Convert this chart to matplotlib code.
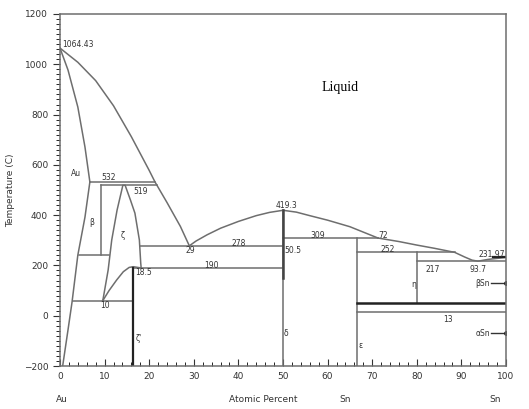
import matplotlib
matplotlib.use("Agg")
import matplotlib.pyplot as plt
from matplotlib.ticker import MultipleLocator

# liquidus, Au side
liq_au_x = [0, 4, 8, 12, 16, 20, 21.3, 24, 27, 29]
liq_au_t = [1064.43, 1008, 935, 835, 712, 578, 532, 450, 355, 278]
# liquidus, 29 -> 50 -> 71.3
liq_mid_x = [29, 30.5, 33, 36, 40, 44, 47, 50, 53, 56, 60, 65, 71.3]
liq_mid_t = [278, 297, 322, 348, 375, 398, 411, 419.3, 412, 398, 380, 354, 309]
# liquidus, 71.3 -> 93.7 -> 100
liq_sn_x = [71.3, 76, 80, 84, 88.5, 90.8, 92.4, 93.7, 96, 100]
liq_sn_t = [309, 295, 281, 268, 252, 233, 221, 217, 224, 231.97]

# Au solidus and solvus
au_sol_x = [0, 1.8, 4, 5.6, 6.7]
au_sol_t = [1064.43, 977, 830, 671, 532]
au_solv_x = [6.7, 5.6, 4.0, 2.7, 1.8, 0.6]
au_solv_t = [532, 392, 241, 54, -56, -200]

# zeta dome and zeta' solvus
zeta_x = [9.6, 10.8, 11.6, 12.8, 14.1, 14.6, 15.8, 16.8, 17.8, 18.1, 18.2]
zeta_t = [60, 182, 301, 420, 519, 519, 460, 408, 301, 210, 190]
zetap_x = [9.6, 11, 12.7, 14.2, 15.5, 16.4, 18.2]
zetap_t = [60, 100, 142, 175, 192, 195, 190]

# invariant lines: (x0, x1, T)
hlines = [
    (6.7, 21.3, 532), (9.3, 21.7, 519), (4.2, 11.0, 241), (2.9, 16.4, 59),
    (17.9, 50, 278), (16.4, 50, 190), (50, 71.3, 309), (66.7, 88.5, 252),
    (80, 100, 217), (66.7, 100, 13),
]
# vertical phase lines: (x, T0, T1)
vlines = [(9.3, 241, 519), (50, -200, 419.3), (66.7, -200, 309), (80, 50, 252)]

labels = [
    ("1064.43", 4, 1078), ("Au", 3.7, 567), ("532", 11, 548), ("519", 18, 495),
    ("β", 7.0, 370), ("ζ", 14.1, 320), ("29", 29.2, 258), ("278", 40, 287),
    ("190", 34, 198), ("18.5", 18.7, 172), ("10", 10, 40), ("ζ'", 17.6, -92),
    ("419.3", 50.8, 440), ("50.5", 52.2, 260), ("309", 57.8, 318), ("72", 72.5, 320),
    ("252", 73.5, 262), ("217", 83.5, 182), ("93.7", 93.7, 182), ("231.97", 96.8, 243),
    ("η", 79.2, 126), ("13", 87, -15), ("δ", 50.6, -72), ("ε", 67.3, -120),
]

fig = plt.figure(figsize=(5.29, 4.09), dpi=100)
ax = fig.add_axes([0.1134, 0.1051, 0.8431, 0.8607])
gray = "#6e6e6e"

ax.plot(liq_au_x, liq_au_t, color=gray, lw=1.1)
ax.plot(liq_mid_x, liq_mid_t, color=gray, lw=1.1)
ax.plot(liq_sn_x, liq_sn_t, color=gray, lw=1.1)
ax.plot(au_sol_x, au_sol_t, color=gray, lw=1.1)
ax.plot(au_solv_x, au_solv_t, color=gray, lw=1.1)
ax.plot(zeta_x, zeta_t, color=gray, lw=1.1)
ax.plot(zetap_x, zetap_t, color=gray, lw=1.1)

for x0, x1, t in hlines:
    ax.plot([x0, x1], [t, t], color=gray, lw=1.1)
for x, t0, t1 in vlines:
    ax.plot([x, x], [t0, t1], color=gray, lw=1.1)

# darker, heavier segments
ax.plot([16.4, 16.4], [-200, 190], color="#222222", lw=1.6)
ax.plot([50, 50], [150, 419.3], color="#444444", lw=1.8)
ax.plot([66.7, 100], [50, 50], color="#222222", lw=1.8)
ax.plot([97, 100], [231.97, 231.97], color="#222222", lw=1.6)

for txt, x, t in labels:
    ax.text(x, t, txt, fontsize=5.5, ha="center", va="center", color="#333333")

ax.text(62.8, 906, "Liquid", fontsize=10, family="Liberation Serif",
        ha="center", va="center")

# tin allotropes
ax.plot([96.6, 100], [130, 130], color="#333333", lw=1)
ax.plot([100], [130], "o", color="#222222", ms=2.5)
ax.text(96.4, 130, "βSn", fontsize=5.5, ha="right", va="center", color="#333333")
ax.plot([96.6, 100], [-69, -69], color="#333333", lw=1)
ax.plot([100], [-69], "o", color="#222222", ms=2.5)
ax.text(96.4, -69, "αSn", fontsize=5.5, ha="right", va="center", color="#333333")

ax.set_xlim(0, 100)
ax.set_ylim(-200, 1200)
ax.xaxis.set_major_locator(MultipleLocator(10))
ax.xaxis.set_minor_locator(MultipleLocator(2))
ax.yaxis.set_major_locator(MultipleLocator(200))
ax.yaxis.set_minor_locator(MultipleLocator(20))
ax.tick_params(axis="x", direction="in", labelsize=6.5, colors="#333333", length=5, pad=4)
ax.tick_params(axis="x", which="minor", direction="in", length=3)
ax.tick_params(axis="y", direction="out", labelsize=6.5, colors="#333333", length=5)
ax.tick_params(axis="y", which="minor", direction="out", length=3)
for s in ax.spines.values():
    s.set_color(gray)
    s.set_linewidth(1.1)

ax.set_ylabel("Temperature (C)", fontsize=6.5, color="#333333", labelpad=6)
fig.text(62 / 529, 1 - 400 / 409, "Au", fontsize=6.5, ha="center", va="center", color="#333333")
fig.text(263 / 529, 1 - 400 / 409, "Atomic Percent", fontsize=6.5, ha="center", va="center", color="#333333")
fig.text(345 / 529, 1 - 400 / 409, "Sn", fontsize=6.5, ha="center", va="center", color="#333333")
fig.text(495 / 529, 1 - 400 / 409, "Sn", fontsize=6.5, ha="center", va="center", color="#333333")

fig.savefig("out.png", dpi=100)
